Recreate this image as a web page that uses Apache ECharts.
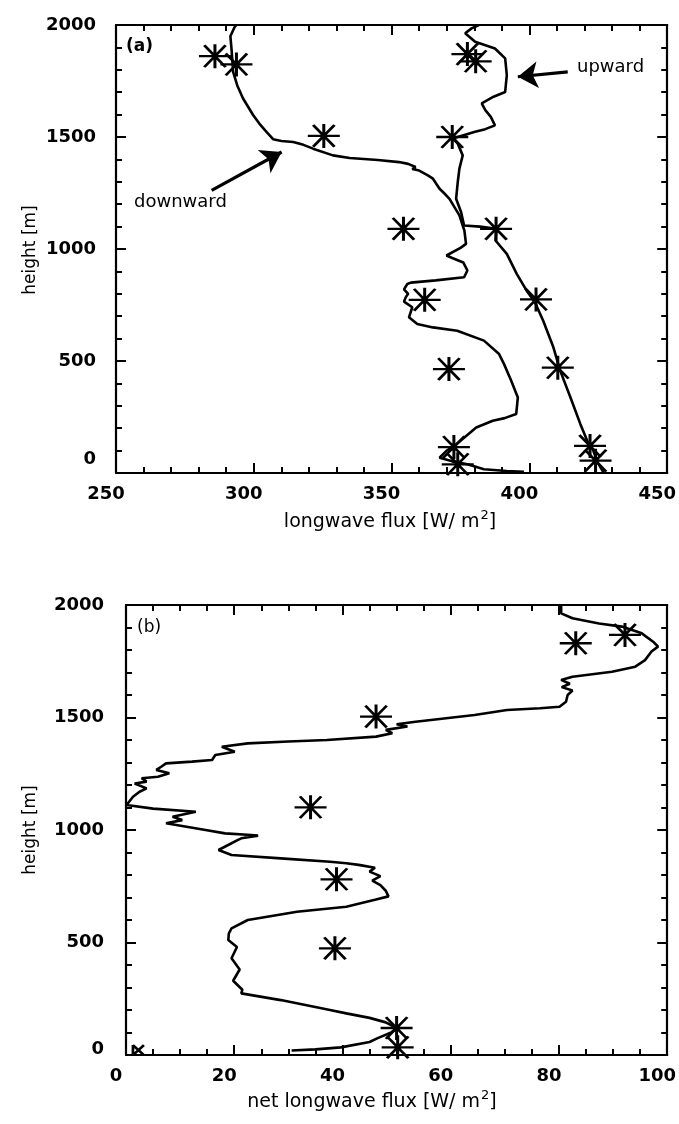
<!DOCTYPE html>
<html><head><meta charset="utf-8">
<script src="https://cdn.jsdelivr.net/npm/echarts@6/dist/echarts.min.js"></script>
<style>html,body{margin:0;padding:0;background:#fff}#c{width:679px;height:1124px}</style>
</head><body><div id="c"></div>
<script>
// ---------- DATA (flux, height) ----------
const fluxTicksA = [250, 450, 50];      // min, max, interval
const fluxTicksB = [0, 100, 20];
const heightTicks = [0, 2000, 500];

const downwardFlux = [
 [293.7,2000],[293,1990],[291.5,1950],[291.9,1895],[292.5,1791],[294,1730],[296.1,1672],[299.8,1597],
 [302,1560],[304.6,1523],[307,1490],[310,1482],[314.3,1478],[318,1465],[321.5,1448],[328.7,1418],
 [334.8,1406],[345,1397],[352.7,1388],[356,1380],[358.7,1366],[357.5,1357],[360,1350],[363,1330],
 [365,1314],[367.4,1269],[369,1250],[371,1224],[372.8,1187],[374.6,1150],[376,1097],[376.4,1083],
 [377,1023],[375,1005],[369.9,971],[372,960],[376,940],[377.5,904],[376.3,874],[366,860],[357,850],
 [355.7,844],[354.5,820],[356,800],[355.1,784],[354.5,765],[357.5,740],[356.3,695],[359.3,665],
 [365,650],[373.8,635],[383.5,591],[389,531],[390.8,486],[393.4,412],[395.8,337],[395.2,263],
 [391,245],[386.7,233],[380.7,203],[373.5,128],[370,100],[367.4,68],[372,52],[377.5,39],[383.5,17],
 [391.8,9],[398,5]
];
const upwardFlux = [
 [381.7,2000],[379,1985],[376.7,1963],[380.3,1925],[387.5,1895],[391.2,1851],[391.8,1776],[391.2,1701],
 [387,1680],[382.7,1650],[384,1620],[386,1590],[387.5,1552],[384,1535],[380.3,1523],[372.2,1493],
 [374,1470],[375.8,1418],[374.6,1359],[374,1299],[373.4,1224],[375.2,1165],[376.3,1105],[382,1100],
 [388,1090],[387.7,1038],[391.8,978],[395.4,889],[399,814],[402,762],[405,680],[408.7,561],
 [411.2,456],[414.9,337],[418.5,218],[421.5,128],[423,106],[424.8,46],[427,0]
];
const downwardObs = [[285.9,1861],[293.7,1824],[325.4,1505],[354.3,1090],[362,773],[370.8,464],[372.6,116],[374,39]];
const upwardObs = [[377.5,1870],[380.5,1838],[372,1500],[387.9,1090],[402.4,775],[410.3,470],[422,121],[424,55]];

const netFlux = [
 [80.4,2000],[80.4,1985],[80.4,1963],[82.5,1941],[87.4,1918],[91.6,1904],[95.3,1874],[97.4,1837],
 [98.3,1815],[97.1,1793],[95.9,1755],[94.1,1726],[89.8,1703],[82.5,1681],[80.4,1667],[82,1650],
 [80.5,1635],[82.5,1620],[81.6,1600],[81.3,1570],[80.1,1548],[76.5,1541],[70.4,1533],[64.4,1511],
 [53.5,1481],[50,1470],[52,1460],[48,1445],[49.2,1430],[46.2,1415],[37.1,1400],[30,1393],[22.5,1385],
 [17.7,1370],[20.1,1348],[16.5,1333],[15.9,1311],[12.2,1304],[7.4,1296],[6.5,1281],[5.6,1267],[8,1252],
 [5.9,1237],[2.9,1230],[3.8,1215],[1.6,1207],[3.8,1185],[2.5,1170],[1.3,1148],[0.1,1111],[5,1095],
 [12.9,1081],[8.6,1059],[10.4,1044],[7.4,1030],[14.7,1000],[18.3,985],[23.1,978],[24.4,975],[21.3,963],
 [20.7,956],[19.5,941],[17.1,911],[19.5,889],[28.6,874],[37.7,859],[40.7,852],[43,845],[46,832],
 [45,815],[47,795],[45.5,775],[47,755],[48,730],[48.5,705],[46,690],[40.7,659],[31.6,637],[22.5,600],
 [19.5,563],[19,540],[18.9,511],[20.5,480],[19.5,430],[21,380],[19.8,330],[21.5,290],[21.3,274],
 [28.6,244],[37.7,200],[40.7,185],[45,165],[48,145],[50,120],[49,100],[46.5,75],[45,58],[39.7,34],
 [35,25],[30.6,20]
];
const netObs = [[92.2,1867],[83.1,1830],[46.2,1504],[34.1,1101],[38.9,781],[38.6,474],[50,120],[50.2,34]];
const netObsEdge = [[2.3,22]];

const downArrow = [[284.7,1262],[310.1,1433]];
const upArrow = [[413.9,1791],[395.8,1769]];

// ---------- CHART ----------
const chart = echarts.init(document.getElementById('c'));
const STAR = 'path://M0,11L30,11M15,0L15,22M5,1L25,21M5,21L25,1';
const TF = 'DejaVu Sans';

function xAxis(gi, t, minorSplit, pos) {
  const bottom = pos === 'bottom';
  return {
    type: 'value', gridIndex: gi, position: pos, min: t[0], max: t[1], interval: t[2],
    axisLine: {show: true, onZero: false, lineStyle: {color: '#000', width: 2.2}},
    axisTick: {show: true, inside: true, length: 10, lineStyle: {color: '#000', width: 2}},
    minorTick: {show: true, splitNumber: minorSplit, length: 6, lineStyle: {color: '#000', width: 2}},
    splitLine: {show: false}, minorSplitLine: {show: false},
    axisLabel: {show: bottom, margin: 12, color: '#000', fontFamily: TF, fontWeight: 'bold', fontSize: 18,
      padding: [0, 20, 0, 0], formatter: v => String(v)}
  };
}
function yAxis(gi, pos, margin, zeroLift) {
  const left = pos === 'left';
  return {
    type: 'value', gridIndex: gi, position: pos, min: heightTicks[0], max: heightTicks[1], interval: heightTicks[2],
    axisLine: {show: true, onZero: false, lineStyle: {color: '#000', width: 2.2}},
    axisTick: {show: true, inside: true, length: 10, lineStyle: {color: '#000', width: 2}},
    minorTick: {show: true, splitNumber: 5, length: 6, lineStyle: {color: '#000', width: 2}},
    splitLine: {show: false}, minorSplitLine: {show: false},
    axisLabel: {show: left, margin: margin, color: '#000', fontFamily: TF, fontWeight: 'bold', fontSize: 18,
      formatter: v => v === 0 ? '{z|0}' : String(v),
      rich: {z: {fontFamily: TF, fontWeight: 'bold', fontSize: 18, color: '#000', padding: [0, 0, zeroLift || 0, 0]}}}
  };
}
function lineSeries(data, xi, yi, ml) {
  const s = {type: 'line', xAxisIndex: xi, yAxisIndex: yi, data: data, showSymbol: false, symbol: 'none',
    lineStyle: {color: '#000', width: 2.6}, silent: true};
  if (ml) {
    s.markLine = {silent: true, symbol: ['none', 'arrow'], symbolSize: 20, label: {show: false},
      lineStyle: {color: '#000', width: 3.2, type: 'solid'},
      data: [[{coord: ml[0]}, {coord: ml[1]}]]};
  }
  return s;
}
function starSeries(data, xi, yi, sym, size) {
  return {type: 'scatter', xAxisIndex: xi, yAxisIndex: yi, data: data, symbol: sym || STAR,
    symbolSize: size || [32, 24], silent: true,
    itemStyle: {color: 'rgba(0,0,0,0)', borderColor: '#000', borderWidth: 2.6, opacity: 1}};
}

const titleRich = {
  t: {fontFamily: TF, fontSize: 19, color: '#000', verticalAlign: 'bottom'},
  s: {fontFamily: TF, fontSize: 13, color: '#000', verticalAlign: 'bottom', padding: [0, 0, 10, 1]}
};

chart.setOption({
  animation: false,
  backgroundColor: '#fff',
  grid: [
    {left: 116, top: 25, width: 552, height: 448},
    {left: 126, top: 605, width: 550, height: 450}
  ],
  xAxis: [
    xAxis(0, fluxTicksA, 5, 'bottom'), xAxis(0, fluxTicksA, 5, 'top'),
    xAxis(1, fluxTicksB, 4, 'bottom'), xAxis(1, fluxTicksB, 4, 'top')
  ],
  yAxis: [
    yAxis(0, 'left', 20, 28), yAxis(0, 'right', 8),
    yAxis(1, 'left', 22, 12), yAxis(1, 'right', 8)
  ],
  series: [
    lineSeries(downwardFlux, 0, 0, downArrow),
    lineSeries(upwardFlux, 0, 0, upArrow),
    starSeries(downwardObs, 0, 0),
    starSeries(upwardObs, 0, 0),
    lineSeries(netFlux, 2, 2),
    starSeries(netObs, 2, 2),
    starSeries(netObsEdge, 2, 2, 'path://M0,0L10,10M0,10L10,0M0,0L0,10', [11, 10])
  ],
  graphic: [
    {type: 'text', left: 126, top: 38, style: {text: '(a)', font: 'bold 17px "DejaVu Sans"', fill: '#000'}},
    {type: 'text', left: 137, top: 619, style: {text: '(b)', font: '17px "DejaVu Sans"', fill: '#000'}},
    {type: 'text', left: 134, top: 193, style: {text: 'downward', font: '18px "DejaVu Sans"', fill: '#000'}},
    {type: 'text', left: 577, top: 58, style: {text: 'upward', font: '18px "DejaVu Sans"', fill: '#000'}},
    {type: 'text', x: 390, y: 532, style: {text: '{t|longwave flux [W/ m}{s|2}{t|]}', rich: titleRich, align: 'center', verticalAlign: 'bottom'}},
    {type: 'text', x: 372, y: 1112, style: {text: '{t|net longwave flux [W/ m}{s|2}{t|]}', rich: titleRich, align: 'center', verticalAlign: 'bottom'}},
    {type: 'text', x: 31, y: 250, rotation: Math.PI / 2, style: {text: 'height [m]', font: '17px "DejaVu Sans"', fill: '#000', align: 'center', verticalAlign: 'middle'}},
    {type: 'text', x: 31, y: 830, rotation: Math.PI / 2, style: {text: 'height [m]', font: '17px "DejaVu Sans"', fill: '#000', align: 'center', verticalAlign: 'middle'}}
  ]
});
</script></body></html>
